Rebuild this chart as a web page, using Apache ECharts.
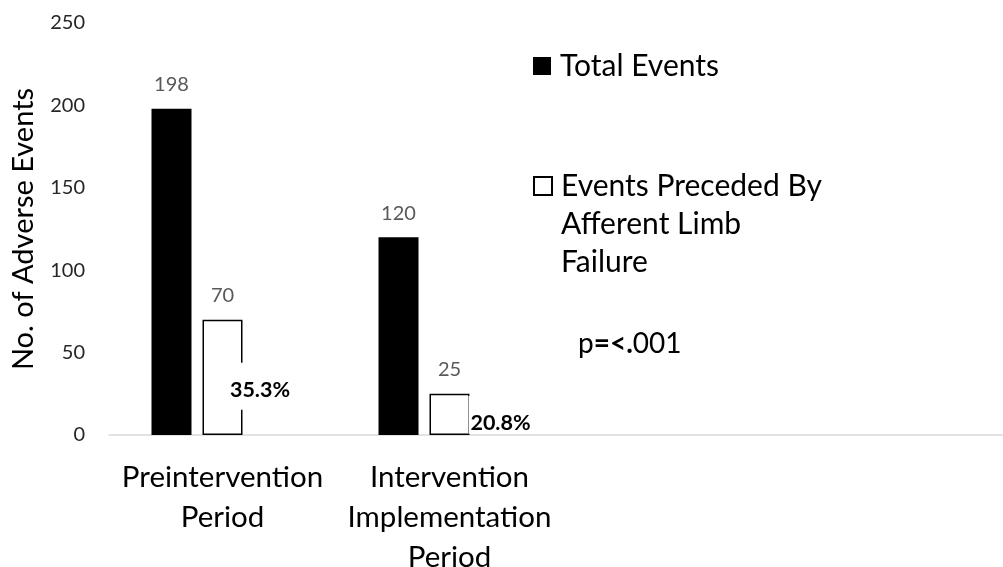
<!DOCTYPE html>
<html>
<head>
<meta charset="utf-8">
<title>Adverse Events</title>
<script src="https://cdn.jsdelivr.net/npm/echarts@6/dist/echarts.min.js"></script>
<style>
  html, body { margin: 0; padding: 0; background: #fff; }
  #chart { width: 1003px; height: 567px; }
</style>
</head>
<body>
<div id="chart"></div>
<script>
// Periods on the category axis (two extra empty slots keep the column spacing)
const categories = ['Preintervention\nPeriod', 'Intervention\nImplementation\nPeriod', '', ''];
const totalEvents = [198, 120];
const afferentEvents = [70, 25];
const afferentShare = [35.3, 20.8];
const yTicks = { min: 0, max: 250, interval: 50 };
const seriesNames = ['Total Events', 'Events Preceded By Afferent Limb Failure'];
const pValueText = ['p', '=<.', '001'];

const FONT = 'Lato';

const chart = echarts.init(document.getElementById('chart'), null, { renderer: 'canvas' });

chart.setOption({
  animation: false,
  backgroundColor: '#fff',
  textStyle: { fontFamily: FONT },
  grid: { left: 109, top: 23, width: 908, bottom: 132, containLabel: false, outerBoundsMode: 'none' },
  legend: [
    {
      data: [seriesNames[0]],
      left: 533, top: 47, padding: 0,
      itemWidth: 18, itemHeight: 18,
      icon: 'rect',
      selectedMode: false,
      textStyle: { fontFamily: FONT, fontSize: 30, lineHeight: 38, color: '#000', padding: [0, 0, 0, 4] }
    },
    {
      data: [seriesNames[1]],
      left: 533, top: 91, padding: 0,
      itemWidth: 18, itemHeight: 18,
      icon: 'rect',
      selectedMode: false,
      // two leading blank lines keep the first text line level with the swatch
      formatter: () => '\n\nEvents Preceded By\nAfferent Limb\nFailure',
      textStyle: { fontFamily: FONT, fontSize: 30, lineHeight: 38, color: '#000', padding: [0, 0, 0, 4] }
    }
  ],
  xAxis: {
    type: 'category',
    data: categories,
    axisLine: { show: true, lineStyle: { color: '#d9d9d9', width: 1.5 } },
    axisTick: { show: false },
    axisLabel: { interval: 0, margin: 22, fontFamily: FONT, fontSize: 29.5, lineHeight: 40, color: '#000' }
  },
  yAxis: {
    type: 'value',
    min: yTicks.min, max: yTicks.max, interval: yTicks.interval,
    name: 'No. of Adverse Events',
    nameLocation: 'middle',
    nameGap: 71,
    nameTextStyle: { fontFamily: FONT, fontSize: 29, color: '#000' },
    axisLine: { show: false },
    axisTick: { show: false },
    splitLine: { show: false },
    axisLabel: { margin: 24, fontFamily: FONT, fontSize: 20, color: '#262626' }
  },
  series: [
    {
      name: seriesNames[0],
      type: 'bar',
      data: totalEvents,
      barWidth: 40,
      barGap: '27.5%',
      itemStyle: { color: '#000' },
      emphasis: { disabled: true },
      label: { show: true, position: 'top', distance: 14, fontFamily: FONT, fontSize: 20, color: '#595959' }
    },
    {
      name: seriesNames[1],
      type: 'bar',
      data: afferentEvents,
      barWidth: 40,
      barGap: '27.5%',
      itemStyle: { color: '#fff', borderColor: '#000', borderWidth: 1.5 },
      emphasis: { disabled: true },
      label: { show: true, position: 'top', distance: 14, fontFamily: FONT, fontSize: 20, color: '#595959' }
    },
    {
      name: 'share',
      type: 'bar',
      barWidth: 40,
      barGap: '27.5%',
      itemStyle: { color: 'transparent' },
      emphasis: { disabled: true },
      data: [
        {
          value: afferentShare[0],
          label: { offset: [-13.5, -14], padding: [16, 2, 9, 2] }
        },
        {
          value: afferentShare[1],
          label: { offset: [0, -5], padding: [16, 2, 0, 2] }
        }
      ],
      label: {
        show: true,
        position: 'insideTop',
        distance: 0,
        formatter: p => p.value + '%',
        fontFamily: FONT, fontSize: 21.5, lineHeight: 22, fontWeight: 'bold', color: '#000',
        backgroundColor: '#fff'
      }
    }
  ],
  graphic: [
    {
      type: 'text',
      left: 578, top: 330,
      style: {
        text: '{n|' + pValueText[0] + '}{b|' + pValueText[1] + '}{n|' + pValueText[2] + '}',
        rich: {
          n: { fontFamily: FONT, fontSize: 28, color: '#000' },
          b: { fontFamily: FONT, fontSize: 28, fontWeight: 'bold', color: '#000' }
        }
      }
    }
  ]
});
</script>
</body>
</html>
